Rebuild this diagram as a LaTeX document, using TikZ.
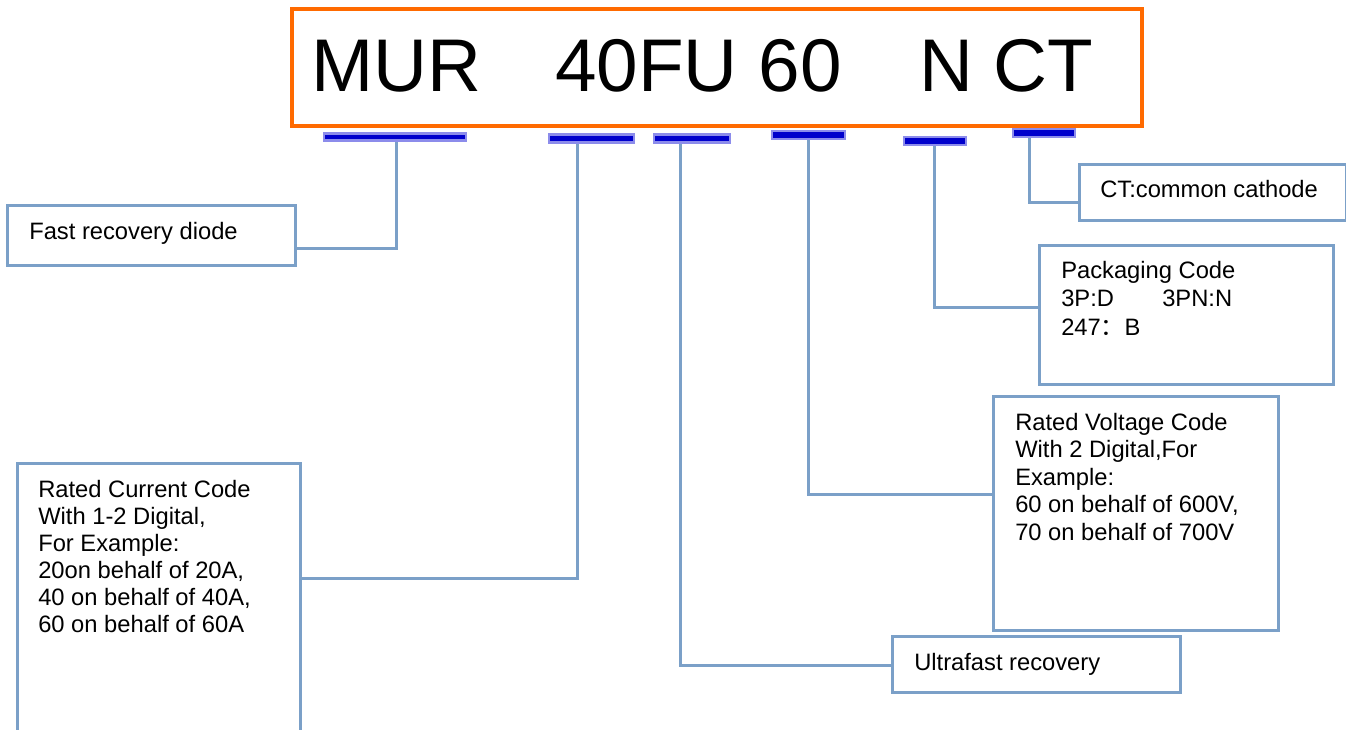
\documentclass[tikz,border=0pt]{standalone}
\usepackage{fontspec}
\setmainfont{Liberation Sans}
\newfontfamily\cjkfont{Noto Sans CJK SC}
\usetikzlibrary{fit}
\definecolor{frame}{HTML}{7BA0C8}
\definecolor{codeor}{HTML}{FF6A00}
\definecolor{barblue}{HTML}{0000CC}
\definecolor{barlight}{HTML}{8C8CEB}
\begin{document}
\begin{tikzpicture}[x=0.75pt,y=-0.75pt,
  box/.style={draw=frame, line width=2.25pt, rectangle, inner sep=0pt},
  codebox/.style={draw=codeor, line width=2.4pt, rectangle, inner sep=0pt},
  ubar/.style={fill=barblue, draw=barlight, line width=1.8pt, rectangle, inner sep=0pt},
  txt/.style={inner sep=0pt, anchor=base west, align=left, font=\fontsize{17.8pt}{20.25pt}\selectfont},
  big/.style={inner sep=0pt, anchor=base west, font=\fontsize{56pt}{60pt}\selectfont},
  link/.style={draw=frame, line width=2.25pt}]
\useasboundingbox (0,0) rectangle (1346,729);

% code box
\node[codebox, fit={(292,9) (1142,126)}] (code) {};
\node[big] (w1) at (311,91) {MUR};
\node[big] (w2) at (555,91) {40FU 60};
\node[big] (w3) at (919,91) {N CT};

% boxes (multi-line texts are placed by the baseline of their last line)
\node[box, fit={(7,205) (295,265)}] (fast) {};
\node[txt] (fastt) at (29,239) {Fast recovery diode};

\node[box, fit={(17,463) (300,740)}] (rc) {};
\node[txt] (rct) at (38,632.5) {Rated Current Code\\With 1-2 Digital,\\For Example:\\20on behalf of 20A,\\40 on behalf of 40A,\\60 on behalf of 60A};

\node[box, fit={(892,636) (1180,692)}] (uf) {};
\node[txt] (uft) at (914,670) {Ultrafast recovery};

\node[box, fit={(993,396) (1278,630)}] (rv) {};
\node[txt, font=\fontsize{17.8pt}{20.6pt}\selectfont] (rvt) at (1015,540) {Rated Voltage Code\\With 2 Digital,For\\Example:\\60 on behalf of 600V,\\70 on behalf of 700V};

\node[box, fit={(1039,245) (1333,384)}] (pk) {};
\node[txt, font=\fontsize{17.8pt}{21pt}\selectfont] (pkt) at (1061,335) {Packaging Code\\3P:D\hspace{36.2pt}3PN:N\\[0.75pt]247{\cjkfont ：}B};

\node[box, fit={(1079,164) (1346,220)}] (ct) {};
\node[txt] (ctt) at (1100,197) {CT:common cathode};

% connector taps and bends
\coordinate (t1) at (396,137); \coordinate (j1) at (396,248);
\coordinate (t2) at (577,138); \coordinate (j2) at (577,578);
\coordinate (t3) at (680,138); \coordinate (j3) at (680,665);
\coordinate (t4) at (808,135); \coordinate (j4) at (808,494);
\coordinate (t5) at (934,141); \coordinate (j5) at (934,307);
\coordinate (t6) at (1029,133); \coordinate (j6) at (1029,202);

\draw[link] (t1) -- (j1) -- (j1 -| fast.east);
\draw[link] (t2) -- (j2) -- (j2 -| rc.east);
\draw[link] (t3) -- (j3) -- (j3 -| uf.west);
\draw[link] (t4) -- (j4) -- (j4 -| rv.west);
\draw[link] (t5) -- (j5) -- (j5 -| pk.west);
\draw[link] (t6) -- (j6) -- (j6 -| ct.west);

% underline bars
\node[ubar, fit={(324,133.5) (466,140.5)}] (b1) {};
\node[ubar, fit={(549,134.5) (634,142.5)}] (b2) {};
\node[ubar, fit={(654,134.5) (730,142.5)}] (b3) {};
\node[ubar, fit={(772,131) (845,139)}] (b4) {};
\node[ubar, fit={(904,137) (966,145)}] (b5) {};
\node[ubar, fit={(1013,129) (1075,137)}] (b6) {};
\end{tikzpicture}
\end{document}
